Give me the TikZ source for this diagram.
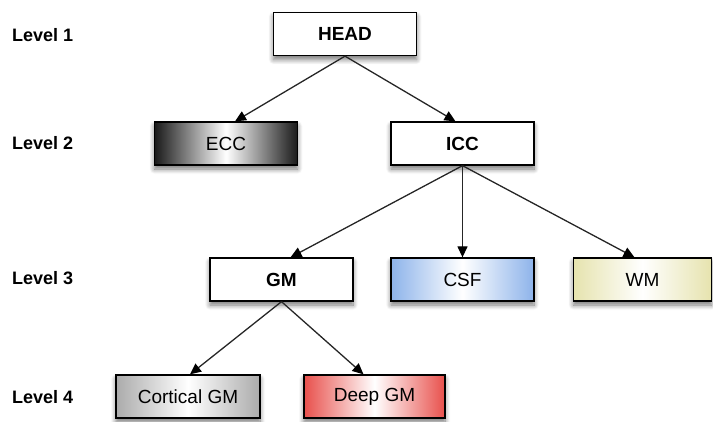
\documentclass[tikz,border=0pt]{standalone}
\usepackage{fontspec}
\setmainfont{Liberation Sans}
\usetikzlibrary{arrows.meta,shadows.blur}
\definecolor{csfblue}{HTML}{8DB3EA}
\definecolor{wmyellow}{HTML}{E6E3AE}
\definecolor{gmgray}{HTML}{ABABAB}
\definecolor{deepred}{HTML}{E8504C}
\tikzset{
  box/.style={draw=black, line width=1.3pt, minimum width=143pt, minimum height=43pt, inner sep=0pt,
    font=\fontsize{19}{22}\selectfont, fill=white,
    blur shadow={shadow xshift=0pt, shadow yshift=-4pt, shadow blur steps=8, shadow blur radius=5pt, shadow opacity=55}},
  hshade/.style={left color=#1, right color=#1, middle color=white},
  lvl/.style={anchor=west, font=\fontsize{18}{21}\selectfont\bfseries, inner sep=0pt},
  arr/.style={draw=black!85, line width=1.3pt, -{Triangle[length=11pt,width=10pt,color=black]}}
}
\begin{document}
\begin{tikzpicture}[x=1pt,y=-1pt]
\useasboundingbox (0,0) rectangle (713,422);
\node[lvl] (l1) at (12,35) {Level 1};
\node[lvl] (l2) at (12,143) {Level 2};
\node[lvl] (l3) at (12,278) {Level 3};
\node[lvl] (l4) at (12,397) {Level 4};

\node[box, font=\fontsize{19}{22}\selectfont\bfseries] (head) at (345,34) {HEAD};
\node[box, hshade=black!90] (ecc) at (226,143.5) {ECC};
\node[box, font=\fontsize{19}{22}\selectfont\bfseries] (icc) at (462.5,143.5) {ICC};
\node[box, font=\fontsize{19}{22}\selectfont\bfseries] (gm) at (281.5,279.5) {GM};
\node[box, hshade=csfblue] (csf) at (462.5,279.5) {CSF};
\node[box, hshade=wmyellow, minimum width=138pt] (wm) at (642.5,279.5) {WM};
\node[box, hshade=gmgray, minimum width=144pt] (cgm) at (188,396.5) {Cortical GM};
\node[box, hshade=deepred, minimum width=141pt] (dgm) at (374.5,396.5) {Deep GM};

\draw[arr] (head.south) -- ([xshift=9pt]ecc.north);
\draw[arr] (head.south) -- ([xshift=-7pt]icc.north);
\draw[arr] (icc.south) -- ([xshift=9pt]gm.north);
\draw[arr] (icc.south) -- (csf.north);
\draw[arr] (icc.south) -- ([xshift=-8pt]wm.north);
\draw[arr] (gm.south) -- ([xshift=2pt]cgm.north);
\draw[arr] (gm.south) -- ([xshift=-11pt]dgm.north);
\end{tikzpicture}
\end{document}
